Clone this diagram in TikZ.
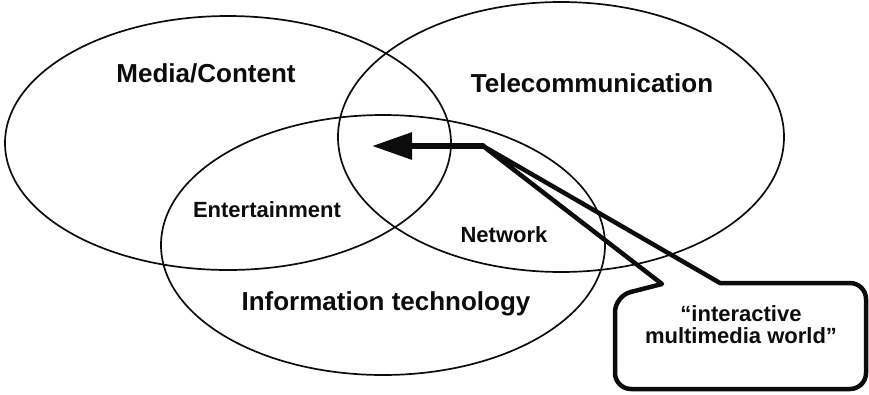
\documentclass[tikz,border=0pt]{standalone}
\usepackage{fontspec}
\setmainfont{Liberation Sans}
\usetikzlibrary{arrows.meta}
\definecolor{vennInk}{RGB}{12,12,12}

\begin{document}
\begin{tikzpicture}[x=1pt,y=-1pt,
    ring/.style={draw=vennInk,line width=1.7pt},
    biglab/.style={font=\fontsize{26}{28}\selectfont\bfseries,text=vennInk,inner sep=0pt,anchor=base},
    smalllab/.style={font=\fontsize{22}{22}\selectfont\bfseries,text=vennInk,inner sep=0pt,anchor=base},
    bubble/.style={draw=vennInk,line width=4.5pt,line join=round}]
  \useasboundingbox (0,0) rectangle (869,394);
  % three overlapping fields
  \foreach \cx/\cy/\rx/\ry in {228/143/223/127, 561/137/223/135, 383/245/222/130}
    \draw[ring] (\cx,\cy) ellipse [x radius=\rx, y radius=\ry];
  \node[biglab] (media) at (206,82) {Media/Content};
  \node[biglab] (telecom) at (592,92) {Telecommunication};
  \node[biglab] (infotech) at (386,310) {Information technology};
  \node[smalllab] (enter) at (267,217) {Entertainment};
  \node[smalllab] (network) at (504,242) {Network};
  % callout pointing into the common area
  \coordinate (bend) at (483,146);
  \coordinate (tip) at (372,146);
  \draw[bubble] (662,284) [rounded corners=16pt] -- (615,296) -- (615,389)
    -- (866,389) -- (866,283) [sharp corners] -- (720,283) -- (bend) -- cycle;
  \draw[vennInk,line width=6pt,line cap=round,-{Triangle[length=40pt,width=26pt]}] (bend) -- (tip);
  \node[smalllab,align=center] (world) at (741,343) {“interactive\\multimedia world”};
\end{tikzpicture}
\end{document}
